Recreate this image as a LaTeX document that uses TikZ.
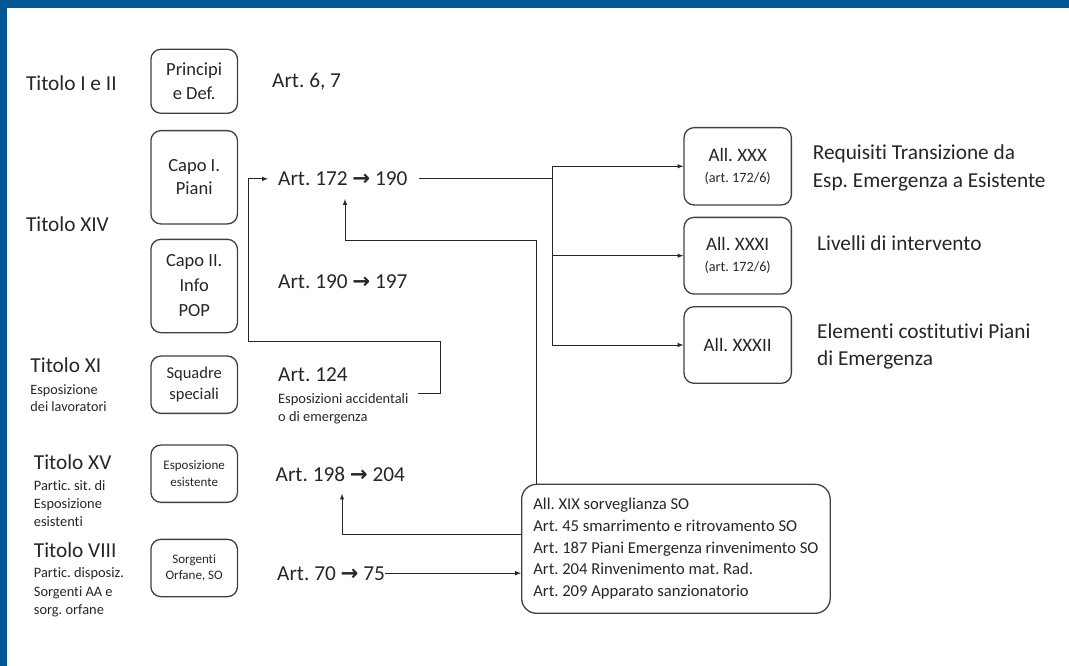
\documentclass[tikz,border=0pt]{standalone}
\usepackage{fontspec}
\setmainfont{Carlito}[Ligatures=NoCommon]
\newfontfamily\arrowfont{DejaVu Sans}
\newcommand{\toarr}{{\arrowfont\bfseries →}}
\definecolor{frameblue}{RGB}{2,86,145}
\definecolor{ink}{RGB}{38,38,38}
\definecolor{boxline}{RGB}{64,64,64}
\frenchspacing
\begin{document}
\begin{tikzpicture}[x=1pt, y=-1pt, >=latex,
	box/.style={draw=boxline, line width=1.3pt, rounded corners=10pt, align=center, inner sep=0pt, text=ink},
	lbl/.style={anchor=base west, inner sep=0pt, align=left, text=ink},
	bigtxt/.style={font=\fontsize{21.3}{27}\selectfont},
	subtxt/.style={font=\fontsize{14.4}{18.3}\selectfont},
	conn/.style={draw=ink, line width=1pt}]
	\useasboundingbox (0,0) rectangle (1069,666);
	\fill[frameblue] (0,0) rectangle (1069,8.3);
	\fill[frameblue] (0,0) rectangle (7,666);

	% titoli (multi-line nodes sit on their last baseline)
	\node[lbl, bigtxt] (t1) at (25.8,90.7) {Titolo I e II};
	\node[lbl, bigtxt] (t14) at (25.8,231.7) {Titolo XIV};
	\node[lbl, bigtxt] (t11) at (30.3,372.7) {Titolo XI};
	\node[lbl, font=\fontsize{14.2}{17.4}\selectfont] (t11s) at (30.3,411.7) {Esposizione\\dei lavoratori};
	\node[lbl, bigtxt] (t15) at (33.7,469.3) {Titolo XV};
	\node[lbl, subtxt] (t15s) at (33.7,526.7) {Partic. sit. di\\Esposizione\\esistenti};
	\node[lbl, bigtxt] (t8) at (33.7,557.7) {Titolo VIII};
	\node[lbl, subtxt] (t8s) at (33.7,614.3) {Partic. disposiz.\\Sorgenti AA e\\sorg. orfane};

	% capi
	\node[box, minimum width=86.6pt, minimum height=64pt, font=\fontsize{18.5}{24.7}\selectfont] (bPrinc) at (194.2,81.3) {Principi\\e Def.};
	\node[box, minimum width=86.6pt, minimum height=93.3pt, font=\fontsize{18.5}{23.4}\selectfont] (bCapoI) at (194.2,177.3) {Capo I.\\Piani};
	\node[box, minimum width=86.6pt, minimum height=93.3pt, font=\fontsize{18.5}{25}\selectfont] (bCapoII) at (194.2,286) {Capo II.\\Info\\POP};
	\node[box, minimum width=86.6pt, minimum height=57.3pt, font=\fontsize{16.5}{21}\selectfont] (bSquadre) at (194.2,384.7) {Squadre\\speciali};
	\node[box, minimum width=86.6pt, minimum height=57.3pt, font=\fontsize{13}{16.7}\selectfont] (bEsist) at (194.2,473.7) {Esposizione\\esistente};
	\node[box, minimum width=86.6pt, minimum height=57.3pt, font=\fontsize{13}{16.7}\selectfont] (bSorg) at (194.2,568) {Sorgenti\\Orfane, SO};

	% articoli
	\node[lbl, bigtxt] (a67) at (272,87.3) {Art. 6, 7};
	\node[lbl, bigtxt] (a172) at (278,185.7) {Art. 172 \toarr{} 190};
	\node[lbl, bigtxt] (a190) at (278,288.3) {Art. 190 \toarr{} 197};
	\node[lbl, bigtxt] (a124) at (278,381.7) {Art. 124};
	\node[lbl, subtxt] (a124d) at (278,421.7) {Esposizioni accidentali\\o di emergenza};
	\node[lbl, bigtxt] (a198) at (275.5,481.7) {Art. 198 \toarr{} 204};
	\node[lbl, bigtxt] (a70) at (277,580) {Art. 70 \toarr{} 75};

	% allegati
	\node[box, minimum width=107.3pt, minimum height=77.3pt, font=\fontsize{19}{20.7}\selectfont] (bXXX) at (737.7,166.3) {All. XXX\\{\fontsize{14.2}{17}\selectfont (art. 172/6)}};
	\node[box, minimum width=107.3pt, minimum height=76.7pt, font=\fontsize{19}{20.7}\selectfont] (bXXXI) at (737.7,255.7) {All. XXXI\\{\fontsize{14.2}{17}\selectfont (art. 172/6)}};
	\node[box, minimum width=107.3pt, minimum height=76.6pt, font=\fontsize{19}{20.7}\selectfont] (bXXXII) at (737.7,345) {All. XXXII};
	\node[lbl, font=\fontsize{21.3}{28}\selectfont] (dXXX) at (812.6,187.3) {Requisiti Transizione da\\Esp. Emergenza a Esistente};
	\node[lbl, bigtxt] (dXXXI) at (817,250.7) {Livelli di intervento};
	\node[lbl, font=\fontsize{21.3}{26.7}\selectfont] (dXXXII) at (817,365) {Elementi costitutivi Piani\\di Emergenza};

	% sorgenti orfane
	\node[box, anchor=west, align=left, inner xsep=11.7pt, minimum height=129pt, rounded corners=15pt, font=\fontsize{16.6}{21.7}\selectfont] (so) at (521,548.8) {All. XIX sorveglianza SO\\Art. 45 smarrimento e ritrovamento SO\\Art. 187 Piani Emergenza rinvenimento SO\\Art. 204 Rinvenimento mat. Rad.\\Art. 209 Apparato sanzionatorio};

	% collegamenti
	\coordinate (brX) at (552.3,0);
	\draw[conn, shorten <=11pt] (a172.east) -- (a172.east -| brX);
	\draw[conn] (brX |- bXXX.west) -- (brX |- bXXXII.west);
	\foreach \b in {bXXX,bXXXI,bXXXII}
		\draw[conn, ->] (brX |- \b.west) -- (\b.west);

	\coordinate (accEnd) at (418.4,393.3);
	\coordinate (accTop) at (440,341.7);
	\coordinate (leftX) at (248,341.7);
	\draw[conn, ->, shorten >=10pt] (accEnd) -| (accTop) -- (leftX) |- (a172.west);

	\coordinate (upA) at (345,240);
	\draw[conn, ->, shorten >=13pt] ([xshift=15.7pt]so.north west) |- (upA) -- (upA |- a172.south);
	\coordinate (upB) at (342,534.3);
	\draw[conn, ->, shorten >=11.6pt] (so.west |- upB) -- (upB) -- (upB |- a198.south);
	\draw[conn, ->] (a70.east) -- (so.west |- a70.east);
\end{tikzpicture}
\end{document}
